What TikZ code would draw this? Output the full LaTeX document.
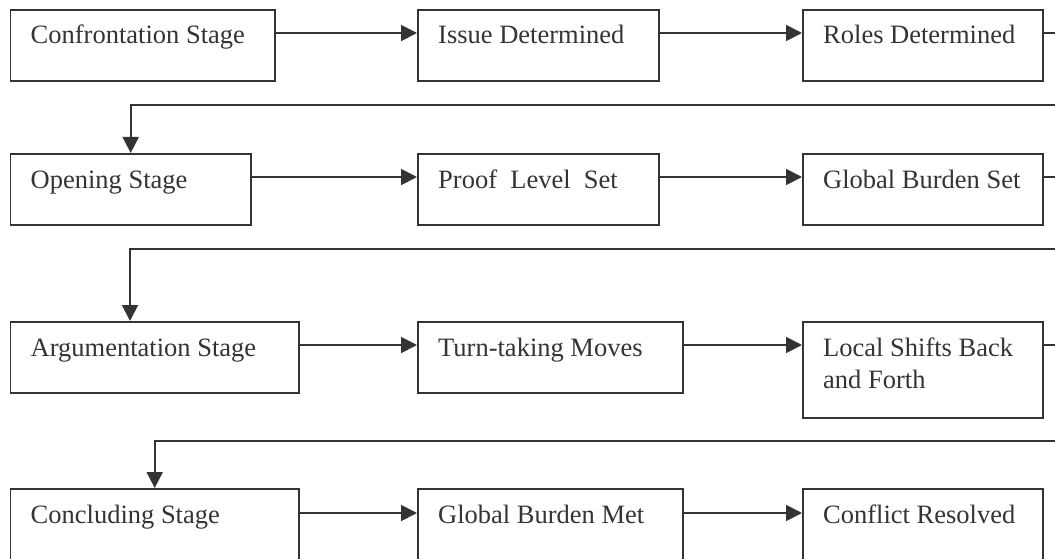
\documentclass[tikz,border=0pt]{standalone}
\usepackage{fontspec}
\setmainfont{Liberation Serif}
\usetikzlibrary{arrows.meta}
\definecolor{ink}{HTML}{333338}
\begin{document}
\begin{tikzpicture}[x=1pt,y=-1pt,
 box/.style={draw=ink, line width=1.9pt, rectangle, inner sep=0pt, anchor=north west},
 lbl/.style={anchor=base west, inner sep=0pt, text=ink, font=\fontsize{26.5}{32}\selectfont, align=left},
 conn/.style={draw=ink, line width=1.9pt},
 arr/.style={conn, -{Triangle[length=16pt,width=16pt]}}]
\useasboundingbox (0,0) rectangle (1055,559);
\clip (0,0) rectangle (1055,559);
% boxes
\node[box, minimum width=264.5pt, minimum height=71pt] (c1) at (9.5,9) {};
\node[box, minimum width=241pt, minimum height=71pt] (i1) at (417,9) {};
\node[box, minimum width=240pt, minimum height=71pt] (r1) at (802,9) {};
\node[box, minimum width=240.5pt, minimum height=71pt] (o2) at (9.5,153) {};
\node[box, minimum width=241pt, minimum height=71pt] (p2) at (417,153) {};
\node[box, minimum width=240pt, minimum height=71pt] (g2) at (802,153) {};
\node[box, minimum width=288.5pt, minimum height=71pt] (a3) at (9.5,321) {};
\node[box, minimum width=265pt, minimum height=71pt] (t3) at (417,321) {};
\node[box, minimum width=240pt, minimum height=96pt] (l3) at (802,321) {};
\node[box, minimum width=288.5pt, minimum height=100pt] (k4) at (9.5,488) {};
\node[box, minimum width=265pt, minimum height=100pt] (m4) at (417,488) {};
\node[box, minimum width=240pt, minimum height=100pt] (f4) at (802,488) {};
% labels
\node[lbl] (c1t) at ([xshift=21pt,yshift=-35pt]c1.north west) {Confrontation Stage};
\node[lbl] (i1t) at ([xshift=21pt,yshift=-35pt]i1.north west) {Issue Determined};
\node[lbl] (r1t) at ([xshift=21pt,yshift=-35pt]r1.north west) {Roles Determined};
\node[lbl] (o2t) at ([xshift=21pt,yshift=-35pt]o2.north west) {Opening Stage};
\node[lbl] (p2t) at ([xshift=21pt,yshift=-35pt]p2.north west) {Proof~~Level~~Set};
\node[lbl] (g2t) at ([xshift=21pt,yshift=-35pt]g2.north west) {Global Burden Set};
\node[lbl] (a3t) at ([xshift=21pt,yshift=-35pt]a3.north west) {Argumentation Stage};
\node[lbl] (t3t) at ([xshift=21pt,yshift=-35pt]t3.north west) {Turn-taking Moves};
\node[lbl] (l3t) at ([xshift=21pt,yshift=-35pt]l3.north west) {Local Shifts Back};
\node[lbl] (l3u) at ([xshift=21pt,yshift=-67pt]l3.north west) {and Forth};
\node[lbl] (k4t) at ([xshift=21pt,yshift=-35pt]k4.north west) {Concluding Stage};
\node[lbl] (m4t) at ([xshift=21pt,yshift=-35pt]m4.north west) {Global Burden Met};
\node[lbl] (f4t) at ([xshift=21pt,yshift=-35pt]f4.north west) {Conflict Resolved};
% row arrows
\draw[arr] ([yshift=-24pt]c1.north east) -- ([yshift=-24pt]i1.north west);
\draw[arr] ([yshift=-24pt]i1.north east) -- ([yshift=-24pt]r1.north west);
\draw[arr] ([yshift=-24pt]o2.north east) -- ([yshift=-24pt]p2.north west);
\draw[arr] ([yshift=-24pt]p2.north east) -- ([yshift=-24pt]g2.north west);
\draw[arr] ([yshift=-24pt]a3.north east) -- ([yshift=-24pt]t3.north west);
\draw[arr] ([yshift=-24pt]t3.north east) -- ([yshift=-24pt]l3.north west);
\draw[arr] ([yshift=-25pt]k4.north east) -- ([yshift=-25pt]m4.north west);
\draw[arr] ([yshift=-25pt]m4.north east) -- ([yshift=-25pt]f4.north west);
% stubs to the right edge
\coordinate (edge) at (1058,0);
\coordinate (r1o) at ([yshift=-24pt]r1.north east);
\coordinate (g2o) at ([yshift=-24pt]g2.north east);
\coordinate (l3o) at ([yshift=-24pt]l3.north east);
\draw[conn] (r1o) -- (r1o -| edge);
\draw[conn] (g2o) -- (g2o -| edge);
\draw[conn] (l3o) -- (l3o -| edge);
% return lines
\coordinate (e1) at (1058,105);
\coordinate (e2) at (1058,249);
\coordinate (e3) at (1058,441);
\coordinate (d2) at (130,249);
\draw[arr] (e1) -| (o2.north);
\draw[arr] (e2) -- (d2) -- (d2 |- a3.north);
\draw[arr] (e3) -| (k4.north);
\end{tikzpicture}
\end{document}
